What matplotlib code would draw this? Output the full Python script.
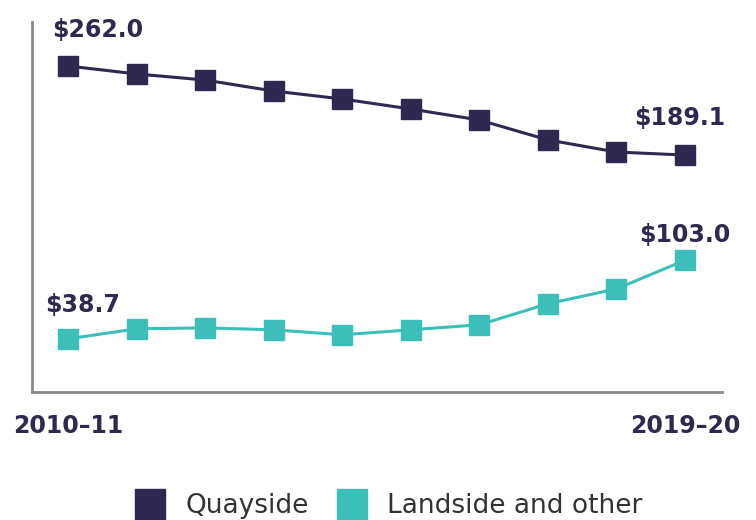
import matplotlib.pyplot as plt
from matplotlib.lines import Line2D

years = ['2010–11', '2011–12', '2012–13', '2013–14', '2014–15',
         '2015–16', '2016–17', '2017–18', '2018–19', '2019–20']
quayside = [262.0, 255.5, 250.5, 241.5, 235.0, 226.8, 217.8, 201.5, 191.6, 189.1]
landside = [38.7, 46.9, 47.7, 46.1, 42.0, 46.1, 50.2, 67.4, 79.6, 103.0]

navy = '#2d2950'
teal = '#3dbfb9'
plt.rcParams['font.family'] = ['DejaVu Sans']

fig = plt.figure(figsize=(7.56, 5.2), dpi=100)
ax = fig.add_axes([32/756, 1-392/520, 690/756, 370/520])
x = list(range(len(years)))

ax.plot(x, quayside, color=navy, lw=2.2, marker='s', ms=14, zorder=3)
ax.plot(x, landside, color=teal, lw=2.2, marker='s', ms=14, zorder=3)

ax.set_xlim(-0.525, 9.54)
ax.set_ylim(-4.8, 298)

for s in ['top', 'right']:
    ax.spines[s].set_visible(False)
for s in ['left', 'bottom']:
    ax.spines[s].set_color('#888888')
    ax.spines[s].set_linewidth(2)

ax.set_yticks([])
ax.set_xticks([0, 9])
ax.set_xticklabels([years[0], years[-1]], fontsize=17, fontweight='bold', color=navy)
ax.tick_params(axis='x', length=0, pad=16)

lab = dict(fontsize=17, fontweight='bold', color=navy, va='baseline')
ax.annotate(f'${quayside[0]:.1f}', (0, quayside[0]), xytext=(-11.5, 21), textcoords='offset points', ha='left', **lab)
ax.annotate(f'${quayside[-1]:.1f}', (9, quayside[-1]), xytext=(-3.5, 21.5), textcoords='offset points', ha='center', **lab)
ax.annotate(f'${landside[0]:.1f}', (0, landside[0]), xytext=(-16.5, 19.5), textcoords='offset points', ha='left', **lab)
ax.annotate(f'${landside[-1]:.1f}', (9, landside[-1]), xytext=(0, 13), textcoords='offset points', ha='center', **lab)

handles = [Line2D([], [], color=navy, marker='s', ms=21, ls=''),
           Line2D([], [], color=teal, marker='s', ms=21, ls='')]
leg = fig.legend(handles, ['Quayside', 'Landside and other'], loc='center', bbox_to_anchor=(389/756, 1-506/520),
                 ncol=2, frameon=False, fontsize=19, handlelength=1.1, handletextpad=0.8,
                 columnspacing=1.06, borderpad=0, borderaxespad=0)
for t in leg.get_texts():
    t.set_color('#333333')

fig.savefig('out.png', dpi=100)
